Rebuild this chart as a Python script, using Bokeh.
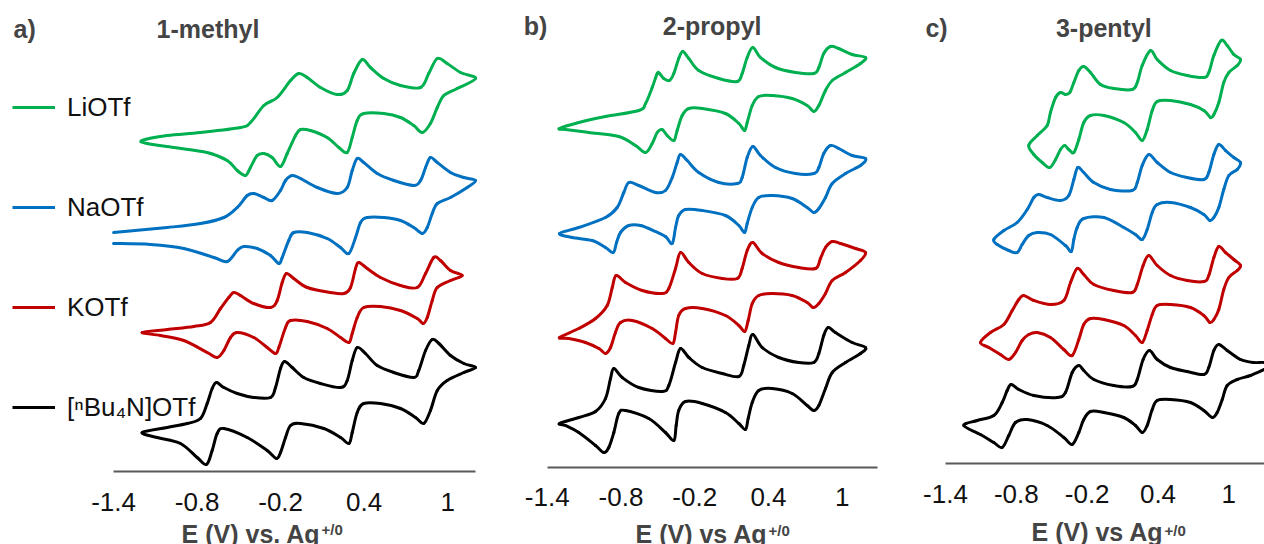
from bokeh.plotting import figure
from bokeh.layouts import row, column
from bokeh.models import (Range1d, FixedTicker, CustomJSTickFormatter, Label,
                          Legend, LegendItem)
from bokeh.embed import file_html
from bokeh.resources import INLINE

FONT = "Liberation Sans"
SALTS = ["LiOTf", "NaOTf", "KOTf", "[\u207fBu\u2084N]OTf"]
COLORS = ["#00B050", "#0070C0", "#C00000", "#000000"]
TICKS = [-1.4, -0.8, -0.2, 0.4, 1.0]
PANEL_TAGS = ["a)", "b)", "c)"]
PANEL_TITLES = ["1-methyl", "2-propyl", "3-pentyl"]
AXIS_TITLES = ["E (V) vs. Ag", "E (V) vs Ag", "E (V) vs Ag"]

# ---------------- panel a: 1-methyl ----------------
E_a_li = [-1.195, -1.015, -0.776, -0.489, -0.417, -0.321, -0.225, -0.129, -0.070, -0.009, 0.086, 0.206, 0.278, 0.325,
          0.386, 0.445, 0.541, 0.661, 0.805, 0.864, 0.925, 0.996, 1.092, 1.200, 1.068, 0.972, 0.925, 0.876, 0.817,
          0.756, 0.661, 0.541, 0.397, 0.350, 0.314, 0.278, 0.218, 0.134, 0.014, -0.057, -0.093, -0.153, -0.201,
          -0.261, -0.321, -0.369, -0.417, -0.453, -0.512, -0.584, -0.728, -0.968, -1.159]
I_a_li = [33.1, 33.6, 33.9, 34.4, 34.9, 36.6, 37.4, 39.1, 39.8, 39.4, 38.4, 37.7, 38.1, 39.8, 41.2, 40.4, 39.3, 38.6,
          38.4, 39.8, 41.3, 40.8, 39.9, 39.3, 38.3, 37.6, 36.4, 34.8, 33.9, 34.6, 35.4, 35.8, 35.8, 35.1, 33.4, 31.9,
          32.4, 33.4, 34.1, 34.2, 33.6, 31.8, 30.5, 31.4, 31.8, 31.6, 30.4, 29.6, 30.1, 31.1, 31.9, 32.4, 32.8]

E_a_na = [-1.400, -1.015, -0.776, -0.608, -0.512, -0.440, -0.393, -0.321, -0.261, -0.201, -0.165, -0.117, -0.057, 0.063,
          0.206, 0.278, 0.314, 0.350, 0.397, 0.494, 0.613, 0.756, 0.805, 0.841, 0.876, 0.925, 1.020, 1.116, 1.200,
          1.140, 1.020, 0.925, 0.889, 0.853, 0.817, 0.756, 0.661, 0.541, 0.422, 0.374, 0.338, 0.290, 0.230, 0.134,
          -0.009, -0.106, -0.142, -0.189, -0.213, -0.273, -0.369, -0.465, -0.512, -0.584, -0.680, -0.896, -1.135,
          -1.400]
I_a_na = [23.9, 24.4, 24.8, 25.4, 26.4, 27.6, 27.8, 27.4, 27.1, 28.1, 29.1, 29.6, 29.3, 28.4, 27.8, 28.4, 30.1, 31.3,
          30.9, 29.8, 29.1, 28.6, 29.1, 30.4, 31.4, 30.9, 29.9, 29.4, 29.1, 28.4, 27.4, 26.8, 25.8, 24.4, 23.8, 24.4,
          25.1, 25.4, 25.4, 24.9, 23.4, 21.8, 22.4, 23.3, 23.9, 23.9, 23.1, 21.4, 20.8, 21.6, 22.3, 22.5, 22.1, 21.0,
          21.4, 22.3, 22.7, 22.8]

E_a_k = [-1.195, -1.015, -0.824, -0.704, -0.632, -0.573, -0.537, -0.489, -0.393, -0.273, -0.225, -0.189, -0.158, -0.106,
         -0.009, 0.158, 0.254, 0.302, 0.338, 0.361, 0.422, 0.517, 0.661, 0.781, 0.841, 0.900, 0.948, 1.020, 1.104,
         1.020, 0.925, 0.889, 0.853, 0.824, 0.781, 0.661, 0.517, 0.397, 0.350, 0.314, 0.290, 0.230, 0.134, -0.009,
         -0.129, -0.165, -0.213, -0.237, -0.297, -0.393, -0.512, -0.560, -0.608, -0.656, -0.728, -0.896, -1.063]
I_a_k = [13.9, 14.2, 14.5, 14.9, 16.3, 17.4, 17.9, 17.6, 16.8, 16.4, 17.1, 18.9, 19.8, 19.3, 18.4, 17.9, 17.8, 18.4,
         20.3, 20.9, 20.3, 19.4, 18.6, 18.4, 19.8, 21.4, 21.1, 20.1, 19.6, 19.1, 18.4, 17.1, 15.4, 14.8, 15.3, 16.1,
         16.5, 16.4, 15.4, 13.8, 12.9, 13.4, 14.3, 15.0, 15.1, 14.4, 12.4, 11.8, 12.4, 13.4, 13.9, 13.4, 12.1, 11.4,
         11.9, 13.1, 13.6]

E_a_bu = [-1.195, -1.015, -0.871, -0.776, -0.728, -0.692, -0.661, -0.608, -0.512, -0.393, -0.273, -0.237, -0.201,
          -0.172, -0.117, -0.034, 0.086, 0.230, 0.278, 0.314, 0.350, 0.409, 0.494, 0.613, 0.756, 0.792, 0.841, 0.889,
          0.937, 1.020, 1.116, 1.200, 1.116, 0.996, 0.925, 0.876, 0.828, 0.769, 0.661, 0.517, 0.397, 0.350, 0.314,
          0.290, 0.230, 0.110, -0.057, -0.129, -0.165, -0.201, -0.230, -0.297, -0.440, -0.608, -0.656, -0.692, -0.733,
          -0.800, -0.920, -1.087]
I_a_bu = [3.9, 4.4, 4.8, 5.3, 6.8, 8.3, 8.9, 8.4, 7.8, 7.4, 7.4, 8.4, 10.3, 11.0, 10.4, 9.4, 8.8, 8.4, 9.1, 11.1, 12.4,
          11.8, 10.6, 9.9, 9.4, 10.1, 12.1, 13.2, 12.8, 11.6, 10.8, 10.4, 9.9, 9.1, 8.1, 6.1, 4.8, 5.4, 6.3, 6.8, 6.8,
          5.9, 3.9, 2.8, 3.4, 4.3, 4.8, 4.6, 3.4, 1.9, 1.3, 2.1, 3.4, 4.3, 3.8, 2.1, 0.7, 1.4, 2.8, 3.4]

# ---------------- panel b: 2-propyl ----------------
E_b_li = [-1.300, -1.143, -0.926, -0.655, -0.600, -0.546, -0.505, -0.487, -0.452, -0.405, -0.370, -0.330, -0.297,
          -0.248, -0.167, -0.004, 0.146, 0.186, 0.227, 0.273, 0.335, 0.457, 0.620, 0.769, 0.810, 0.850, 0.905, 0.972,
          1.081, 1.190, 1.149, 1.027, 0.919, 0.864, 0.810, 0.769, 0.715, 0.593, 0.430, 0.321, 0.268, 0.227, 0.205,
          0.159, 0.050, -0.139, -0.248, -0.302, -0.343, -0.370, -0.424, -0.465, -0.505, -0.546, -0.600, -0.682,
          -0.818, -1.062, -1.251]
I_b_li = [33.9, 34.5, 35.1, 35.7, 36.4, 38.0, 39.4, 39.4, 38.9, 38.7, 39.4, 40.9, 41.6, 40.9, 39.7, 38.9, 38.6, 39.4,
          41.0, 42.0, 41.0, 40.0, 39.5, 39.4, 40.0, 41.4, 42.1, 41.9, 41.3, 41.0, 40.4, 39.5, 38.7, 37.7, 36.2, 35.6,
          36.2, 36.9, 37.2, 37.1, 36.2, 34.5, 33.7, 34.4, 35.4, 35.9, 35.9, 35.2, 33.7, 32.7, 33.2, 33.8, 33.5, 32.4,
          31.5, 32.2, 33.1, 33.5, 33.8]

E_b_na = [-1.300, -1.143, -0.926, -0.831, -0.777, -0.736, -0.655, -0.519, -0.438, -0.383, -0.343, -0.316, -0.261,
          -0.167, -0.004, 0.146, 0.186, 0.227, 0.273, 0.335, 0.457, 0.620, 0.769, 0.810, 0.850, 0.905, 0.972, 1.081,
          1.190, 1.149, 1.027, 0.919, 0.864, 0.810, 0.769, 0.715, 0.593, 0.430, 0.321, 0.268, 0.227, 0.205, 0.159,
          0.050, -0.139, -0.275, -0.330, -0.356, -0.383, -0.438, -0.519, -0.641, -0.736, -0.804, -0.836, -0.863,
          -0.926, -1.034, -1.197]
I_b_na = [23.4, 24.0, 25.0, 26.0, 27.5, 28.5, 28.2, 27.5, 27.7, 29.0, 30.5, 31.3, 30.7, 29.5, 28.5, 28.4, 29.0, 31.0,
          32.1, 31.2, 30.0, 29.4, 29.4, 30.0, 31.4, 32.2, 31.9, 31.2, 30.9, 30.2, 29.4, 28.4, 27.0, 25.9, 25.5, 26.0,
          26.9, 27.2, 27.0, 26.0, 24.4, 23.5, 24.2, 25.2, 25.7, 25.8, 25.2, 24.0, 22.4, 23.1, 23.6, 24.2, 24.2, 23.5,
          22.5, 21.5, 22.0, 22.7, 23.0]

E_b_k = [-1.300, -1.143, -1.007, -0.912, -0.871, -0.839, -0.763, -0.627, -0.465, -0.411, -0.356, -0.316, -0.248,
         -0.139, 0.024, 0.146, 0.186, 0.227, 0.273, 0.349, 0.484, 0.647, 0.783, 0.823, 0.864, 0.919, 0.987, 1.108,
         1.190, 1.149, 1.027, 0.919, 0.864, 0.810, 0.764, 0.715, 0.593, 0.430, 0.321, 0.268, 0.235, 0.207, 0.159,
         0.050, -0.139, -0.275, -0.330, -0.356, -0.378, -0.438, -0.546, -0.709, -0.804, -0.845, -0.885, -0.926,
         -0.980, -1.089, -1.225]
I_b_k = [13.0, 13.9, 14.9, 16.2, 18.0, 19.2, 18.5, 17.7, 17.4, 17.9, 19.9, 21.5, 20.5, 19.4, 18.9, 18.9, 19.9, 21.7,
         22.5, 21.4, 20.5, 20.0, 19.9, 20.9, 22.0, 22.6, 22.4, 21.9, 21.5, 20.7, 19.5, 18.7, 17.4, 16.4, 16.0, 16.5,
         17.2, 17.4, 17.2, 16.4, 14.7, 13.6, 14.2, 15.2, 15.9, 15.9, 15.2, 13.5, 12.4, 12.9, 13.9, 14.7, 14.5, 13.5,
         12.0, 11.4, 11.9, 12.5, 12.9]

E_b_bu = [-1.300, -1.143, -1.007, -0.926, -0.885, -0.858, -0.790, -0.655, -0.465, -0.411, -0.356, -0.316, -0.248,
          -0.139, 0.024, 0.159, 0.199, 0.240, 0.273, 0.349, 0.484, 0.647, 0.769, 0.810, 0.850, 0.886, 0.945, 1.081,
          1.190, 1.149, 1.027, 0.919, 0.864, 0.810, 0.769, 0.715, 0.593, 0.430, 0.321, 0.268, 0.235, 0.213, 0.159,
          0.050, -0.139, -0.275, -0.330, -0.351, -0.370, -0.438, -0.574, -0.763, -0.818, -0.858, -0.899, -0.940,
          -1.007, -1.143, -1.251]
I_b_bu = [4.4, 5.0, 5.6, 6.9, 8.9, 9.9, 9.0, 8.0, 7.6, 8.2, 10.5, 11.9, 11.0, 10.0, 9.4, 9.1, 10.2, 12.2, 13.3, 12.0,
          11.0, 10.5, 10.5, 11.4, 13.2, 14.0, 13.5, 12.5, 12.0, 11.4, 10.5, 9.5, 7.9, 6.2, 5.7, 6.2, 7.4, 7.9, 7.7,
          6.5, 4.9, 3.8, 4.4, 5.5, 6.4, 6.6, 5.7, 4.2, 2.7, 3.5, 4.9, 5.7, 5.4, 3.5, 2.0, 1.5, 2.2, 3.5, 4.2]

# ---------------- panel c: 3-pentyl ----------------
E_c_li = [-0.695, -0.623, -0.539, -0.511, -0.468, -0.426, -0.384, -0.347, -0.313, -0.271, -0.229, -0.172, -0.087,
          0.025, 0.181, 0.224, 0.266, 0.336, 0.393, 0.506, 0.647, 0.788, 0.830, 0.873, 0.935, 0.986, 1.042, 1.099,
          1.071, 1.000, 0.957, 0.915, 0.873, 0.845, 0.788, 0.675, 0.506, 0.393, 0.351, 0.308, 0.266, 0.209, 0.110,
          -0.059, -0.172, -0.229, -0.271, -0.313, -0.356, -0.390, -0.426, -0.468, -0.517, -0.581, -0.652]
I_c_li = [31.8, 32.8, 33.8, 35.1, 36.6, 37.1, 36.9, 37.1, 38.1, 39.3, 39.7, 39.1, 37.9, 37.5, 37.4, 38.1, 39.8, 41.3,
          40.4, 39.3, 38.8, 38.6, 39.1, 40.8, 42.3, 41.8, 40.9, 40.4, 39.8, 39.1, 38.1, 36.1, 34.9, 34.6, 35.3, 35.9,
          36.3, 36.2, 35.3, 33.4, 32.3, 33.1, 34.1, 34.8, 34.8, 34.1, 32.4, 31.1, 31.4, 31.8, 31.4, 30.4, 29.6, 30.1,
          30.9]

E_c_na = [-0.991, -0.906, -0.793, -0.708, -0.652, -0.610, -0.539, -0.426, -0.356, -0.313, -0.280, -0.229, -0.144,
          -0.003, 0.181, 0.224, 0.266, 0.322, 0.393, 0.506, 0.647, 0.788, 0.830, 0.873, 0.915, 0.972, 1.042, 1.099,
          1.071, 1.000, 0.957, 0.915, 0.873, 0.839, 0.788, 0.675, 0.506, 0.393, 0.351, 0.308, 0.266, 0.209, 0.110,
          -0.059, -0.229, -0.285, -0.313, -0.335, -0.384, -0.511, -0.623, -0.695, -0.751, -0.793, -0.864, -0.962]
I_c_na = [22.4, 23.3, 24.1, 25.4, 26.6, 26.9, 26.6, 26.3, 26.8, 28.4, 29.6, 29.1, 28.1, 27.4, 27.3, 28.1, 29.8, 30.9,
          30.1, 29.1, 28.6, 28.4, 29.1, 30.9, 31.9, 31.3, 30.6, 30.1, 29.4, 28.8, 27.4, 25.6, 24.6, 24.3, 24.9, 25.6,
          26.1, 25.9, 25.1, 23.4, 22.4, 22.9, 23.6, 24.6, 24.5, 23.6, 22.4, 21.2, 21.8, 22.9, 23.1, 22.8, 21.9, 21.1,
          21.3, 21.9]

E_c_k = [-1.104, -1.019, -0.906, -0.835, -0.779, -0.737, -0.652, -0.511, -0.398, -0.341, -0.285, -0.229, -0.144, 0.025,
         0.181, 0.224, 0.274, 0.322, 0.393, 0.506, 0.647, 0.788, 0.830, 0.873, 0.915, 0.972, 1.042, 1.099, 1.071,
         1.000, 0.957, 0.915, 0.873, 0.839, 0.788, 0.675, 0.506, 0.393, 0.351, 0.308, 0.266, 0.209, 0.110, -0.059,
         -0.172, -0.229, -0.271, -0.327, -0.398, -0.511, -0.623, -0.695, -0.751, -0.807, -0.864, -0.935, -1.033]
I_c_k = [12.1, 13.1, 13.9, 15.3, 16.4, 16.8, 16.3, 15.9, 16.3, 18.1, 19.5, 18.9, 17.9, 17.3, 17.1, 17.9, 19.8, 20.8,
         19.8, 18.8, 18.3, 18.2, 18.8, 20.6, 21.7, 21.1, 20.4, 19.8, 19.3, 18.6, 17.4, 15.4, 14.4, 14.1, 14.8, 15.6,
         15.9, 15.8, 14.9, 13.3, 12.1, 12.8, 13.8, 14.4, 14.5, 13.9, 12.4, 10.8, 11.4, 12.6, 13.1, 12.9, 12.3, 11.1,
         10.4, 10.9, 11.6]

E_c_bu = [-1.245, -1.132, -0.991, -0.920, -0.878, -0.844, -0.779, -0.652, -0.454, -0.384, -0.327, -0.271, -0.229,
          -0.144, 0.025, 0.181, 0.224, 0.274, 0.328, 0.393, 0.506, 0.647, 0.788, 0.830, 0.873, 0.915, 0.986, 1.099,
          1.211, 1.302, 1.387, 1.302, 1.183, 1.071, 0.986, 0.944, 0.901, 0.859, 0.788, 0.675, 0.506, 0.393, 0.351,
          0.308, 0.266, 0.209, 0.110, -0.059, -0.172, -0.229, -0.271, -0.327, -0.398, -0.539, -0.708, -0.807, -0.864,
          -0.920, -0.991, -1.104]
I_c_bu = [3.8, 4.3, 4.8, 6.1, 7.3, 7.9, 7.4, 6.8, 6.6, 7.1, 9.1, 9.8, 9.3, 8.4, 7.8, 7.7, 8.4, 10.4, 11.3, 10.4, 9.6,
          9.2, 8.9, 9.6, 11.3, 11.9, 11.3, 10.4, 10.1, 10.1, 9.8, 9.4, 8.8, 8.4, 7.8, 6.4, 5.1, 4.6, 5.3, 6.1, 6.4,
          6.3, 5.4, 3.8, 3.1, 3.8, 4.6, 5.1, 5.2, 4.4, 3.1, 1.9, 2.6, 3.8, 4.4, 4.1, 2.8, 1.6, 2.1, 2.9]

TOP_H = 521


def no_align(p):
    if "frame_align" in p.properties():
        p.frame_align = False


def make_panel(width, xr, yr, bottom, hi, standoff):
    p = figure(width=width, height=TOP_H, x_range=Range1d(*xr), y_range=Range1d(*yr),
               output_backend="svg", toolbar_location=None, y_axis_location=None,
               min_border_left=0, min_border_right=0, min_border_top=0, min_border_bottom=bottom,
               outline_line_color=None, background_fill_color="white", border_fill_color="white")
    no_align(p)
    p.grid.visible = False
    ax = p.xaxis[0]
    ax.bounds = (-1.4, hi)
    ax.ticker = FixedTicker(ticks=TICKS)
    ax.formatter = CustomJSTickFormatter(
        code="const s = tick.toFixed(1); return s.endsWith('.0') ? s.slice(0, -2) : s;")
    ax.major_tick_line_color = None
    ax.minor_tick_line_color = None
    ax.major_tick_out = 0
    ax.major_tick_in = 0
    ax.minor_tick_out = 0
    ax.axis_line_color = "#595959"
    ax.axis_line_width = 2
    ax.major_label_text_font = FONT
    ax.major_label_text_font_size = "26px"
    ax.major_label_text_color = "#111111"
    ax.major_label_standoff = standoff
    return p


def curve(p, E, I, color, closed=True, t=1.0 / 6.0):
    """Smoothed (Excel-style) CV trace through the read points, as cubic Bezier pieces."""
    n = len(E)

    def k(j):
        return j % n if closed else min(max(j, 0), n - 1)

    segs = range(n) if closed else range(n - 1)
    x0, y0, x1, y1, cx0, cy0, cx1, cy1 = [], [], [], [], [], [], [], []
    for i in segs:
        a, b, c, d = k(i - 1), k(i), k(i + 1), k(i + 2)
        x0.append(E[b]); y0.append(I[b]); x1.append(E[c]); y1.append(I[c])
        cx0.append(E[b] + (E[c] - E[a]) * t); cy0.append(I[b] + (I[c] - I[a]) * t)
        cx1.append(E[c] - (E[d] - E[b]) * t); cy1.append(I[c] - (I[d] - I[b]) * t)
    return p.bezier(x0=x0, y0=y0, x1=x1, y1=y1, cx0=cx0, cy0=cy0, cx1=cx1, cy1=cy1,
                    line_color=color, line_width=3, line_cap="round")


def titles(p, tag, tag_x, title, title_x, ty):
    p.add_layout(Label(x=tag_x, y=ty, text=tag, text_font=FONT, text_font_size="25px",
                       text_font_style="bold", text_align="left", text_baseline="alphabetic"))
    p.add_layout(Label(x=title_x, y=ty, text=title, text_font=FONT, text_font_size="25px",
                       text_font_style="bold", text_align="center", text_baseline="alphabetic"))


pa = make_panel(505, (-2.2126, 1.4152), (0, 47.1), TOP_H - 471, 1.2, 21)
pb = make_panel(395, (-1.7396, 1.4744), (0, 46.7), TOP_H - 467, 1.29, 20)
pc = make_panel(364, (-1.7814, 1.3020), (0, 46.3), TOP_H - 463, 1.302, 21)

curve(pa, E_a_li, I_a_li, COLORS[0])
curve(pa, E_a_na, I_a_na, COLORS[1], closed=False)
curve(pa, E_a_k, I_a_k, COLORS[2])
curve(pa, E_a_bu, I_a_bu, COLORS[3])
for E, I, c in zip([E_b_li, E_b_na, E_b_k, E_b_bu], [I_b_li, I_b_na, I_b_k, I_b_bu], COLORS):
    curve(pb, E, I, c)
for E, I, c in zip([E_c_li, E_c_na, E_c_k, E_c_bu], [I_c_li, I_c_na, I_c_k, I_c_bu], COLORS):
    curve(pc, E, I, c)

# legend keys (line swatches in each salt's colour; the single point is NaN so nothing is plotted)
nan = float("nan")
keys = [pa.line(x=[nan], y=[nan], line_color=c, line_width=3) for c in COLORS]
legend = Legend(items=[LegendItem(label=s, renderers=[r]) for s, r in zip(SALTS, keys)],
                location=(12, 48), orientation="vertical", glyph_width=43, glyph_height=32,
                label_height=32, label_standoff=12, spacing=68, padding=0, margin=0,
                border_line_color=None, background_fill_alpha=0,
                label_text_font=FONT, label_text_font_size="26px", label_text_color="#111111")
pa.add_layout(legend)

titles(pa, PANEL_TAGS[0], -2.119, PANEL_TITLES[0], -0.722, 44.3)
titles(pb, PANEL_TAGS[1], -1.591, PANEL_TITLES[1], -0.058, 44.2)
titles(pc, PANEL_TAGS[2], -1.570, PANEL_TITLES[2], -0.059, 43.6)

# strip under the three panels holding the x-axis titles (E vs Ag+/0)
strip = figure(width=1264, height=544 - TOP_H, x_range=Range1d(0, 1264), y_range=Range1d(0, 544 - TOP_H),
               output_backend="svg", toolbar_location=None, x_axis_location=None, y_axis_location=None,
               min_border=0, outline_line_color=None, background_fill_color="white",
               border_fill_color="white")
no_align(strip)
strip.grid.visible = False
for txt, xr_, yb, ys in zip(AXIS_TITLES, [320, 767, 1163], [10.5, 11.0, 12.5], [15.5, 14.0, 14.5]):
    strip.add_layout(Label(x=xr_, y=yb, text=txt, text_font=FONT, text_font_size="25px",
                           text_font_style="bold", text_align="right", text_baseline="alphabetic"))
    strip.add_layout(Label(x=xr_ + 1, y=ys, text="+/0", text_font=FONT, text_font_size="15px",
                           text_font_style="bold", text_align="left", text_baseline="alphabetic"))

layout = column(row(pa, pb, pc), strip)
open("out.html", "w").write(file_html(layout, INLINE))
